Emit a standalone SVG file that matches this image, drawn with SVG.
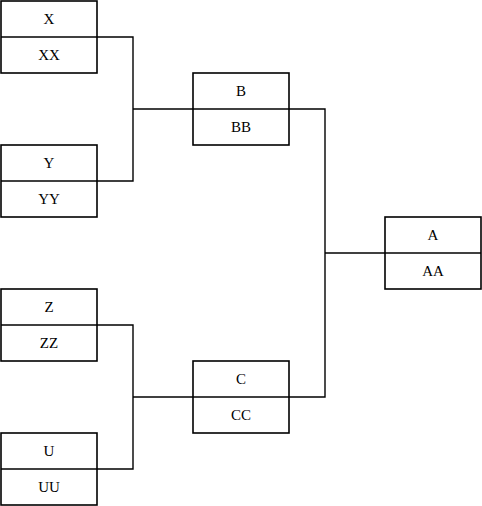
<svg xmlns="http://www.w3.org/2000/svg" width="482" height="506" viewBox="0 0 482 506">
<style>
.box{fill:#fff;stroke:#000;stroke-width:1.6}
.div{stroke:#000;stroke-width:1.6}
.c{fill:none;stroke:#000;stroke-width:1.4}
</style>
<rect width="482" height="506" fill="#fff"/>
<g id="connectors">
<polyline class="c" points="97,37 133,37 133,181 97,181"/>
<line class="c" x1="133" y1="109" x2="193" y2="109"/>
<polyline class="c" points="97,325 133,325 133,469 97,469"/>
<line class="c" x1="133" y1="397" x2="193" y2="397"/>
<polyline class="c" points="289,109 325,109 325,397 289,397"/>
<line class="c" x1="325" y1="253" x2="385" y2="253"/>
</g>
<g font-family="Liberation Serif, serif" font-size="15" text-anchor="middle" fill="#000">
<g id="X"><rect class="box" x="1" y="1" width="96" height="72"/><line class="div" x1="1" y1="37" x2="97" y2="37"/><text x="49" y="24">X</text><text x="49" y="60">XX</text></g>
<g id="Y"><rect class="box" x="1" y="145" width="96" height="72"/><line class="div" x1="1" y1="181" x2="97" y2="181"/><text x="49" y="168">Y</text><text x="49" y="204">YY</text></g>
<g id="Z"><rect class="box" x="1" y="289" width="96" height="72"/><line class="div" x1="1" y1="325" x2="97" y2="325"/><text x="49" y="312">Z</text><text x="49" y="348">ZZ</text></g>
<g id="U"><rect class="box" x="1" y="433" width="96" height="72"/><line class="div" x1="1" y1="469" x2="97" y2="469"/><text x="49" y="456">U</text><text x="49" y="492">UU</text></g>
<g id="B"><rect class="box" x="193" y="73" width="96" height="72"/><line class="div" x1="193" y1="109" x2="289" y2="109"/><text x="241" y="96">B</text><text x="241" y="132">BB</text></g>
<g id="C"><rect class="box" x="193" y="361" width="96" height="72"/><line class="div" x1="193" y1="397" x2="289" y2="397"/><text x="241" y="384">C</text><text x="241" y="420">CC</text></g>
<g id="A"><rect class="box" x="385" y="217" width="96" height="72"/><line class="div" x1="385" y1="253" x2="481" y2="253"/><text x="433" y="240">A</text><text x="433" y="276">AA</text></g>
</g>
</svg>
